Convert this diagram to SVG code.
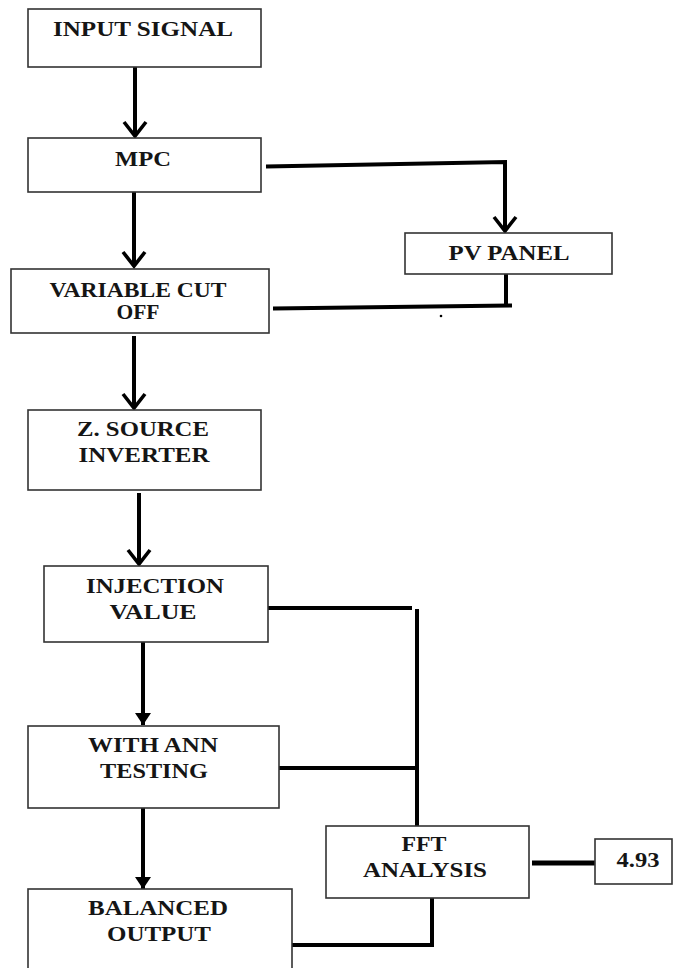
<svg xmlns="http://www.w3.org/2000/svg" width="674" height="968" viewBox="0 0 674 968">
<style>
.box{fill:#fff;stroke:#333;stroke-width:1.6}
.t{font-family:"Liberation Serif","Times New Roman",serif;font-weight:bold;font-size:20px;fill:#151515;text-anchor:middle}
.c{fill:none;stroke:#000;stroke-width:4}
</style>
<defs>
<marker id="chev" markerUnits="userSpaceOnUse" viewBox="-17 -14 20 28" refX="0" refY="0" markerWidth="20" markerHeight="28" orient="auto">
<path d="M-14,-11 L0,0 L-14,11" fill="none" stroke="#000" stroke-width="3.6"/>
</marker>
<marker id="tri" markerUnits="userSpaceOnUse" viewBox="-13 -9 14 18" refX="0" refY="0" markerWidth="14" markerHeight="18" orient="auto">
<path d="M-12,-8 L0,0 L-12,8 Z" fill="#000"/>
</marker>
</defs>
<g id="connectors">
<path class="c" d="M135,67 L135,136" marker-end="url(#chev)"/>
<path class="c" d="M134,192 L134,266" marker-end="url(#chev)"/>
<path class="c" d="M266,166.5 L505,162 L505,231" marker-end="url(#chev)"/>
<path class="c" d="M506,274 L506,306 M512,305.5 L273,308.5"/>
<circle cx="441" cy="316" r="1.3" fill="#000"/>
<path class="c" d="M134,336 L134,408" marker-end="url(#chev)"/>
<path class="c" d="M139,493 L139,564" marker-end="url(#chev)"/>
<path class="c" d="M143,642 L143,725" marker-end="url(#tri)"/>
<path class="c" d="M143,808 L143,889" marker-end="url(#tri)"/>
<path class="c" d="M267,608 L412,608 M417,609 L417,826"/>
<path class="c" d="M279,768 L417,768"/>
<path class="c" d="M432,898 L432,945 L288,945"/>
<path class="c" d="M532,863 L595,863" style="stroke-width:5"/>
</g>
<g id="input-signal"><rect class="box" x="28" y="9" width="233" height="58"/><text class="t" x="143" y="36" textLength="180" lengthAdjust="spacingAndGlyphs">INPUT SIGNAL</text></g>
<g id="mpc"><rect class="box" x="28" y="138" width="233" height="54"/><text class="t" x="143" y="166" textLength="56" lengthAdjust="spacingAndGlyphs">MPC</text></g>
<g id="pv-panel"><rect class="box" x="405" y="233" width="207" height="41"/><text class="t" x="509" y="260" textLength="121" lengthAdjust="spacingAndGlyphs">PV PANEL</text></g>
<g id="variable-cut-off"><rect class="box" x="11" y="269" width="258" height="64"/><text class="t" x="138" y="297" textLength="177" lengthAdjust="spacingAndGlyphs">VARIABLE CUT</text><text class="t" x="138" y="319" textLength="43" lengthAdjust="spacingAndGlyphs">OFF</text></g>
<g id="z-source-inverter"><rect class="box" x="28" y="410" width="233" height="80"/><text class="t" x="143" y="436" textLength="132" lengthAdjust="spacingAndGlyphs">Z. SOURCE</text><text class="t" x="144" y="462" textLength="131" lengthAdjust="spacingAndGlyphs">INVERTER</text></g>
<g id="injection-value"><rect class="box" x="44" y="566" width="224" height="76"/><text class="t" x="155" y="593" textLength="138" lengthAdjust="spacingAndGlyphs">INJECTION</text><text class="t" x="153" y="619" textLength="87" lengthAdjust="spacingAndGlyphs">VALUE</text></g>
<g id="with-ann-testing"><rect class="box" x="28" y="726" width="251" height="82"/><text class="t" x="153" y="752" textLength="130" lengthAdjust="spacingAndGlyphs">WITH ANN</text><text class="t" x="154" y="778" textLength="108" lengthAdjust="spacingAndGlyphs">TESTING</text></g>
<g id="balanced-output"><rect class="box" x="28" y="889" width="264" height="90"/><text class="t" x="158" y="915" textLength="140" lengthAdjust="spacingAndGlyphs">BALANCED</text><text class="t" x="159" y="941" textLength="104" lengthAdjust="spacingAndGlyphs">OUTPUT</text></g>
<g id="fft-analysis"><rect class="box" x="326" y="826" width="203" height="72"/><text class="t" x="424" y="851" textLength="45" lengthAdjust="spacingAndGlyphs">FFT</text><text class="t" x="425" y="877" textLength="124" lengthAdjust="spacingAndGlyphs">ANALYSIS</text></g>
<g id="value-493"><rect class="box" x="595" y="839" width="77" height="45"/><text class="t" x="638" y="867" textLength="43" lengthAdjust="spacingAndGlyphs">4.93</text></g>
</svg>
